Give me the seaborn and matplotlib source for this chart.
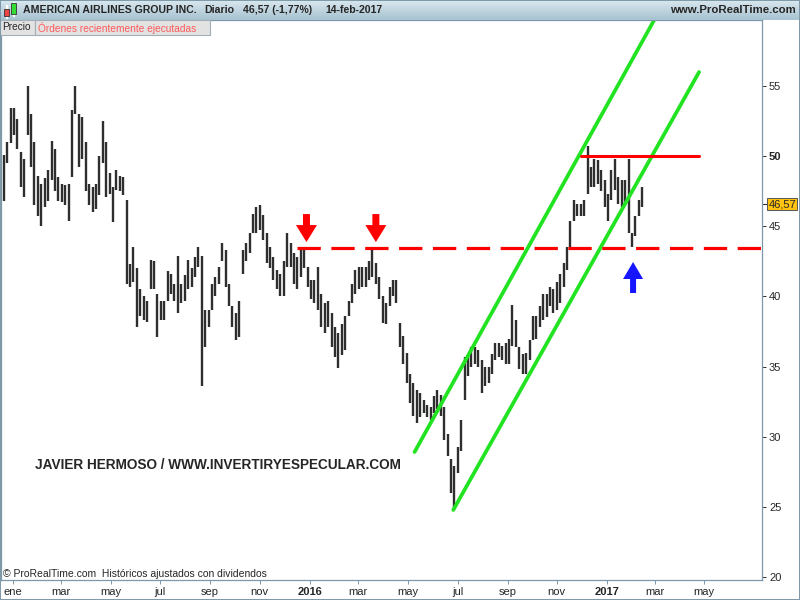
import numpy as np
import pandas as pd
import matplotlib
matplotlib.use("Agg")
import matplotlib.pyplot as plt
import seaborn as sns
from matplotlib.patches import Rectangle, Polygon
from matplotlib.transforms import ScaledTranslation
from matplotlib.colors import LinearSegmentedColormap

# ---------------- data ----------------
last_date = "2017-02-14"
last_price = 46.57
bar_highs = [48.4, 50.1, 51.0, 53.4, 53.4, 52.6, 50.3, 49.8, 55.0, 53.0,
             51.0, 48.6, 48.0, 48.4, 49.0, 51.1, 50.5, 48.5, 48.0, 47.9,
             48.0, 53.3, 55.0, 53.0, 52.8, 51.0, 48.0, 47.8, 48.0, 50.0,
             52.5, 51.0, 48.8, 47.8, 49.0, 48.6, 48.5, 46.9, 42.3, 43.5,
             42.0, 40.5, 40.0, 39.7, 42.6, 42.5, 40.2, 39.7, 39.7, 41.8,
             41.6, 40.9, 42.9, 40.9, 41.5, 42.6, 42.0, 42.8, 43.5, 42.9,
             39.0, 39.0, 40.9, 41.4, 42.1, 43.8, 43.3, 40.9, 39.3, 38.8,
             39.7, 43.3, 43.8, 44.5, 45.9, 46.4, 46.5, 45.8, 44.5, 43.5,
             42.8, 41.9, 41.6, 42.5, 44.5, 43.8, 43.1, 42.8, 43.3, 43.5,
             42.1, 41.2, 41.2, 42.1, 40.2, 39.5, 39.7, 38.8, 37.8, 37.4,
             38.0, 38.6, 39.7, 40.9, 41.9, 42.1, 42.1, 42.1, 42.5, 43.3,
             42.4, 41.4, 40.0, 39.5, 40.7, 41.2, 41.2, 38.1, 37.2, 36.0,
             34.5, 33.8, 33.3, 33.1, 32.6, 32.3, 32.1, 32.9, 33.3, 33.0,
             32.1, 30.2, 28.4, 27.9, 29.3, 31.2, 35.7, 35.7, 36.4, 36.4,
             36.2, 35.5, 35.0, 35.0, 35.9, 36.7, 36.7, 36.5, 36.7, 37.0,
             39.4, 38.3, 36.4, 35.9, 36.0, 36.9, 38.6, 38.6, 39.3, 40.2,
             40.2, 40.7, 40.5, 41.0, 41.6, 42.4, 43.5, 45.4, 46.9, 46.6,
             46.6, 46.9, 50.7, 49.2, 49.8, 49.7, 49.0, 48.3, 47.3, 49.0,
             49.8, 48.5, 48.3, 48.3, 49.8, 44.5, 45.7, 46.9, 47.8]
bar_lows = [45.0, 46.8, 49.5, 50.9, 51.5, 50.5, 47.8, 47.1, 51.5, 49.2,
            46.5, 45.7, 45.0, 46.4, 46.8, 48.3, 47.5, 46.8, 46.7, 46.5,
            45.4, 48.5, 53.0, 49.2, 49.8, 47.5, 46.5, 46.0, 46.2, 47.2,
            49.5, 47.1, 47.3, 45.3, 47.6, 47.5, 47.2, 40.9, 40.7, 41.0,
            37.8, 38.6, 38.3, 38.2, 40.5, 40.5, 37.1, 38.3, 38.3, 39.7,
            40.2, 39.7, 38.8, 39.5, 39.7, 40.5, 40.7, 41.4, 42.1, 33.6,
            36.4, 37.8, 39.0, 40.0, 40.9, 42.5, 40.7, 39.3, 37.8, 36.9,
            37.1, 41.6, 42.5, 43.1, 44.5, 44.5, 44.7, 44.0, 42.4, 42.0,
            41.2, 40.5, 40.0, 40.0, 42.1, 42.1, 40.9, 40.5, 41.4, 42.0,
            40.7, 39.8, 39.5, 39.0, 37.8, 37.4, 37.8, 36.4, 35.7, 34.9,
            35.8, 36.2, 38.6, 39.5, 40.2, 40.5, 40.7, 40.7, 41.2, 41.4,
            40.9, 39.8, 38.1, 38.0, 39.3, 40.0, 39.5, 36.4, 35.2, 33.8,
            32.4, 31.5, 31.0, 31.4, 31.7, 31.4, 31.2, 31.7, 32.0, 31.5,
            29.8, 28.6, 26.0, 24.8, 27.4, 29.0, 32.6, 34.3, 35.0, 35.2,
            35.0, 33.1, 33.6, 33.8, 34.5, 35.5, 35.7, 35.5, 35.2, 35.2,
            36.5, 36.4, 34.8, 34.5, 34.5, 35.5, 36.9, 37.0, 37.8, 38.3,
            38.5, 39.3, 38.8, 39.0, 39.5, 40.7, 41.9, 43.5, 45.4, 45.7,
            45.7, 45.7, 47.3, 47.8, 47.8, 48.0, 47.5, 46.4, 45.4, 46.9,
            47.6, 46.6, 46.4, 46.6, 44.5, 43.5, 44.3, 45.7, 46.4]

# trend channel (green), resistance (red), support (dashed red)
upper_channel_dates = ["2016-05-10", "2017-03-02"]
upper_channel_prices = [28.92, 59.9]
lower_channel_dates = ["2016-06-27", "2017-04-25"]
lower_channel_prices = [24.79, 55.98]
resistance_dates = ["2016-11-30", "2017-04-25"]
resistance_level = 50.0
support_start = "2015-12-17"
support_level = 43.43
down_arrow_dates = ["2015-12-29", "2016-03-23"]
down_arrow_tip = 43.87
up_arrow_date = "2017-02-02"
up_arrow_tip = 42.45

month_names = {1: "ene", 3: "mar", 5: "may", 7: "jul", 9: "sep", 11: "nov"}
y_ticks = [20, 25, 30, 35, 40, 45, 50, 55]

# ---------------- styling ----------------
sns.set_style("white")
plt.rcParams["font.family"] = ["Liberation Sans", "DejaVu Sans"]

W, H = 800, 600
fig = plt.figure(figsize=(8, 6), dpi=100)
frame_col = "#7d98a8"

ax_left, ax_right, ax_top, ax_bot = 1, 762, 20, 580
ax = fig.add_axes([ax_left / W, 1 - ax_bot / H, (ax_right - ax_left) / W, (ax_bot - ax_top) / H])

cal = pd.bdate_range("2014-11-03", "2017-09-29")


def pos(d):
    return cal.get_indexer(pd.to_datetime(d))


bar_dates = pd.bdate_range(end=last_date, periods=len(bar_highs), freq="3B")
bx = pos(bar_dates)

ax.vlines(bx, bar_lows, bar_highs, color="#2e2e2e", lw=1.7)

# channel lines through seaborn
green = "#22e322"
sns.lineplot(x=pos(upper_channel_dates), y=upper_channel_prices, ax=ax, color=green,
             lw=2.7, legend=False)
sns.lineplot(x=pos(lower_channel_dates), y=lower_channel_prices, ax=ax, color=green,
             lw=2.7, legend=False)
# resistance
sns.lineplot(x=pos(resistance_dates), y=[resistance_level] * 2, ax=ax, color="#ff0000",
             lw=2.2, legend=False)
# support dashed
x0 = pos([support_start])[0]
ax.plot([x0, pos(["2017-09-29"])[0]], [support_level] * 2, color="#ff0000", lw=2.3,
        dashes=(7.3, 3.3), solid_capstyle="butt", dash_capstyle="butt")

# x limits: 1.138 px per business day, 2-Jan-2015 at pixel 14
ppd = 1.138
xref = pos(["2015-01-02"])[0]
ax.set_xlim(xref - (14 - ax_left) / ppd, xref + (ax_right - 14) / ppd)
ppu = 14.04
ax.set_ylim(50 - (ax_bot - 156) / ppu, 50 + (156 - ax_top) / ppu)


def arrow(xd, yd, pts_px, color):
    tr = fig.dpi_scale_trans + ScaledTranslation(xd, yd, ax.transData)
    p = Polygon(np.array(pts_px) / 100.0, closed=True, transform=tr, facecolor=color,
                edgecolor="none", zorder=5)
    ax.add_patch(p)


down_shape = [(0, 0), (-10.5, 17), (-3.5, 17), (-3.5, 28), (3.5, 28), (3.5, 17), (10.5, 17)]
up_shape = [(0, 0), (-10, -17), (-3, -17), (-3, -31), (3, -31), (3, -17), (10, -17)]
for d in down_arrow_dates:
    arrow(pos([d])[0], down_arrow_tip, down_shape, "#ff0000")
arrow(pos([up_arrow_date])[0], up_arrow_tip, up_shape, "#1515ff")

# x ticks
tick_pos, tick_lab = [], []
for y in (2015, 2016, 2017):
    for m in (1, 3, 5, 7, 9, 11):
        if y == 2017 and m > 5:
            continue
        first = pd.bdate_range(f"{y}-{m:02d}-01", periods=1)[0]
        tick_pos.append(pos([first])[0])
        if m == 1 and y > 2015:
            tick_lab.append(str(y))
        else:
            tick_lab.append(month_names[m])
ax.set_xticks(tick_pos)
ax.set_xticklabels(tick_lab)
for t in ax.get_xticklabels():
    if t.get_text().isdigit():
        t.set_fontweight("bold")
ax.tick_params(axis="x", direction="out", length=3, width=0.7, color=frame_col,
               pad=2, labelsize=8, bottom=True)

ax.yaxis.tick_right()
ax.set_yticks(y_ticks)
ax.set_yticklabels([str(v) for v in y_ticks])
for t in ax.get_yticklabels():
    if t.get_text() == "50":
        t.set_fontweight("bold")
ax.tick_params(axis="y", direction="out", length=3, width=0.7, color="#333333",
               pad=2, labelsize=8, right=True, left=False)

for s in ax.spines.values():
    s.set_color(frame_col)
    s.set_linewidth(0.9)

# price tag
ax.plot([1.0, 1.006], [last_price] * 2, transform=ax.get_yaxis_transform(),
        color="#333333", lw=0.8, clip_on=False)
ax.text(1.0085, last_price, f"{last_price:.2f}".replace(".", ","),
        transform=ax.get_yaxis_transform(), va="center", ha="left", fontsize=8,
        bbox=dict(boxstyle="square,pad=0.12", facecolor="#ffc20e", edgecolor="#555555",
                  lw=0.7), zorder=6, clip_on=False)

# header band
hax = fig.add_axes([0, 1 - ax_top / H, 1, ax_top / H])
cmap = LinearSegmentedColormap.from_list("hdr", ["#d8e7ee", "#a8c3d1"])
hax.imshow(np.linspace(0, 1, 20)[:, None], cmap=cmap, aspect="auto", extent=[0, 1, 0, 1])
hax.set_axis_off()


def fx(px):
    return px / W


def fy(py):
    return 1 - py / H


# small candle icon
fig.patches.append(Rectangle((fx(6.2), fy(18)), fx(1), 13 / H, transform=fig.transFigure,
                             facecolor="#333333"))
fig.patches.append(Rectangle((fx(4), fy(16)), fx(5), 7 / H, transform=fig.transFigure,
                             facecolor="#ee4444", edgecolor="#333333", lw=0.6))
fig.patches.append(Rectangle((fx(13.2), fy(16)), fx(1), 14 / H, transform=fig.transFigure,
                             facecolor="#333333"))
fig.patches.append(Rectangle((fx(11), fy(13.5)), fx(5), 10 / H, transform=fig.transFigure,
                             facecolor="#33dd33", edgecolor="#333333", lw=0.6))

hy = fy(10)
hfs = 7.6
fig.text(fx(23), hy, "AMERICAN AIRLINES GROUP INC.", fontsize=hfs, fontweight="bold",
         va="center", ha="left")
fig.text(fx(204), hy, "Diario", fontsize=hfs, fontweight="bold", va="center", ha="left")
fig.text(fx(243), hy, "46,57 (-1,77%)", fontsize=hfs, fontweight="bold",
         va="center", ha="left")
fig.text(fx(325), hy, "14-feb-2017", fontsize=hfs, fontweight="bold",
         va="center", ha="left")
fig.text(fx(796), hy, "www.ProRealTime.com", fontsize=8.2, fontweight="bold",
         va="center", ha="right")

# Precio / ordenes boxes
fig.patches.append(Rectangle((fx(0), fy(35)), fx(35), 15 / H, transform=fig.transFigure,
                             facecolor="#e2e2e2", edgecolor="#a3adb5", lw=0.8, zorder=10))
fig.patches.append(Rectangle((fx(35), fy(35)), fx(175), 15 / H, transform=fig.transFigure,
                             facecolor="#e2e2e2", edgecolor="#a3adb5", lw=0.8, zorder=10))
fig.text(fx(2.5), fy(27.5), "Precio", fontsize=7.3, va="center", ha="left", zorder=11)
fig.text(fx(37.5), fy(27.5), "Órdenes recientemente ejecutadas", fontsize=7.3,
         color="#ff5a5a", va="center", ha="left", zorder=11)

# watermark
fig.text(fx(35), fy(465), "JAVIER HERMOSO / WWW.INVERTIRYESPECULAR.COM", fontsize=9.8,
         fontweight="bold", va="center", ha="left")
# footer
fig.text(fx(3), fy(574), "© ProRealTime.com  Históricos ajustados con dividendos",
         fontsize=7.5, va="center", ha="left")

# outer frame
fig.patches.append(Rectangle((0, 0), 1, 1, transform=fig.transFigure, fill=False,
                             edgecolor=frame_col, lw=1.4, zorder=20))

fig.savefig("out.png", dpi=100)
